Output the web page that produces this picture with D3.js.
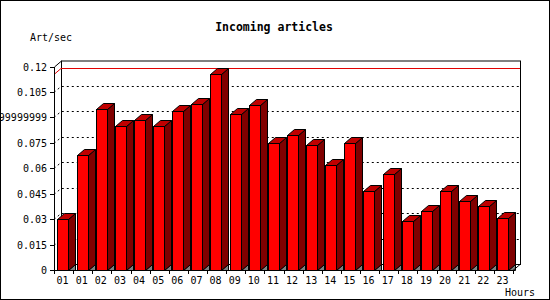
<!DOCTYPE html>
<html>
<head>
<meta charset="utf-8">
<script src="https://cdn.jsdelivr.net/npm/d3@7"></script>
<style>
body { margin: 0; background: #fff; }
text { font-family: "DejaVu Sans Mono", "Liberation Mono", monospace; font-size: 10px; fill: #000; }
</style>
</head>
<body>
<script>
var hours = ['01','01','02','03','04','05','06','07','08','09','10','11','12','13','14','15','16','17','18','19','20','21','22','23'];
var values = [0.0298,0.0676,0.0951,0.0851,0.0886,0.0851,0.0939,0.098,0.1155,0.0922,0.0975,0.0750,
              0.0794,0.0735,0.0622,0.0751,0.0465,0.0565,0.0288,0.0347,0.0465,0.0406,0.0376,0.0304];
var yTicks = [0, 0.015, 0.03, 0.045, 0.06, 0.075, 0.09, 0.105, 0.12];
var yTickLabels = ['0','0.015','0.03','0.045','0.06','0.075','0.0899999999','0.105','0.12'];

var width = 550, height = 300
, dx = 7, dy = 6;

var x = d3.scaleBand()
    .domain(d3.range(values.length))
    .range([54, 513]);

var y = d3.scaleLinear()
    .domain([0, 0.12])
    .range([270, 66.5]);

var svg = d3.select('body')
    .append('svg')
    .attr('width', width)
    .attr('height', height);

svg.append('rect')
    .attr('x', 0.5).attr('y', 0.5)
    .attr('width', width - 1).attr('height', height - 1)
    .attr('fill', '#fff').attr('stroke', '#000');

// title and axis names
svg.append('text').attr('x', 274).attr('y', 31).style('text-anchor', 'middle')
    .style('font-weight', 'bold').style('font-size', '11.5px').text('Incoming articles');
svg.append('text').attr('x', 30).attr('y', 41).text('Art/sec');
svg.append('text').attr('x', 505).attr('y', 296).text('Hours');

var x0 = x.range()[0], x1 = x.range()[1];
var yTop = y(0.12), yBot = y(0);

// back wall
svg.append('rect')
    .attr('x', x0 + dx + 0.5).attr('y', yTop - dy + 0.5)
    .attr('width', x1 - x0).attr('height', yBot - yTop)
    .attr('fill', '#fff').attr('stroke', '#000');

// grid lines, dotted, on the back wall plus the step from the front axis
var grid = svg.append('g');
yTicks.slice(1, -1).forEach(function(t) {
  var yy = Math.round(y(t)) + 0.5;
  grid.append('path')
      .attr('d', 'M' + x0 + ',' + yy + 'L' + (x0 + dx) + ',' + (yy - dy) + 'H' + (x1 + dx))
      .attr('fill', 'none').attr('stroke', '#000').attr('stroke-dasharray', '2,3');
});

// max line in red
var maxV = d3.max(values), ym = Math.round(y(maxV)) + 0.5;
svg.append('path')
    .attr('d', 'M' + x0 + ',' + ym + 'L' + (x0 + dx) + ',' + (ym - dy) + 'H' + (x1 + dx))
    .attr('fill', 'none').attr('stroke', '#e00000');

// left side and top edge of the frame
svg.append('path')
    .attr('d', 'M' + (x0 + 0.5) + ',' + yBot + 'V' + (yTop + 0.5) + 'L' + (x0 + dx + 0.5) + ',' + (yTop - dy + 0.5))
    .attr('fill', 'none').attr('stroke', '#000');

// bars
var bw = x.bandwidth();
var bars = svg.append('g').selectAll('g')
    .data(values)
    .enter().append('g');

bars.each(function(d, i) {
  var g = d3.select(this);
  var bx = Math.round(x(i) + bw * 0.18) + 0.5;
  var w = Math.round(bw * 0.6);
  var top = Math.round(y(d)) + 0.5, bot = yBot + 0.5;
  g.append('path')
      .attr('d', 'M' + (bx + w) + ',' + bot + 'L' + (bx + w + dx) + ',' + (bot - dy) + 'V' + bot + 'Z')
      .attr('fill', '#808080').attr('stroke', '#000');
  g.append('path')
      .attr('d', 'M' + (bx + w) + ',' + top + 'L' + (bx + w + dx) + ',' + (top - dy) + 'V' + (bot - dy) + 'L' + (bx + w) + ',' + bot + 'Z')
      .attr('fill', '#800000').attr('stroke', '#000');
  g.append('path')
      .attr('d', 'M' + bx + ',' + top + 'L' + (bx + dx) + ',' + (top - dy) + 'H' + (bx + w + dx) + 'L' + (bx + w) + ',' + top + 'Z')
      .attr('fill', '#c00000').attr('stroke', '#000');
  g.append('rect')
      .attr('x', bx).attr('y', top)
      .attr('width', w).attr('height', bot - top)
      .attr('fill', '#ff0000').attr('stroke', '#000');
});

// floor front edge and right step
svg.append('path')
    .attr('d', 'M' + x0 + ',' + (yBot + 0.5) + 'H' + x1 + 'L' + (x1 + dx) + ',' + (yBot - dy + 0.5))
    .attr('fill', 'none').attr('stroke', '#000');

// y axis ticks and labels
var yAxis = svg.append('g');
yTicks.forEach(function(t, i) {
  var yy = Math.round(y(t)) + 0.5;
  yAxis.append('line').attr('x1', x0 - 4).attr('x2', x0).attr('y1', yy).attr('y2', yy).attr('stroke', '#000');
  yAxis.append('text').attr('x', x0 - 7).attr('y', yy + 3.5)
      .style('text-anchor', 'end').text(yTickLabels[i]);
});

// x axis ticks and labels
var xAxis = svg.append('g');
d3.range(values.length + 1).forEach(function(i) {
  var xx = Math.round(i < values.length ? x(i) : x1) + 0.5;
  xAxis.append('line').attr('x1', xx).attr('x2', xx).attr('y1', yBot).attr('y2', yBot + 4).attr('stroke', '#000');
});
xAxis.selectAll('text')
    .data(hours)
    .enter().append('text')
    .attr('x', function(d, i) { return x(i) + bw / 2 - 1; })
    .attr('y', 284)
    .style('text-anchor', 'middle')
    .text(function(d) { return d; });
</script>
</body>
</html>
